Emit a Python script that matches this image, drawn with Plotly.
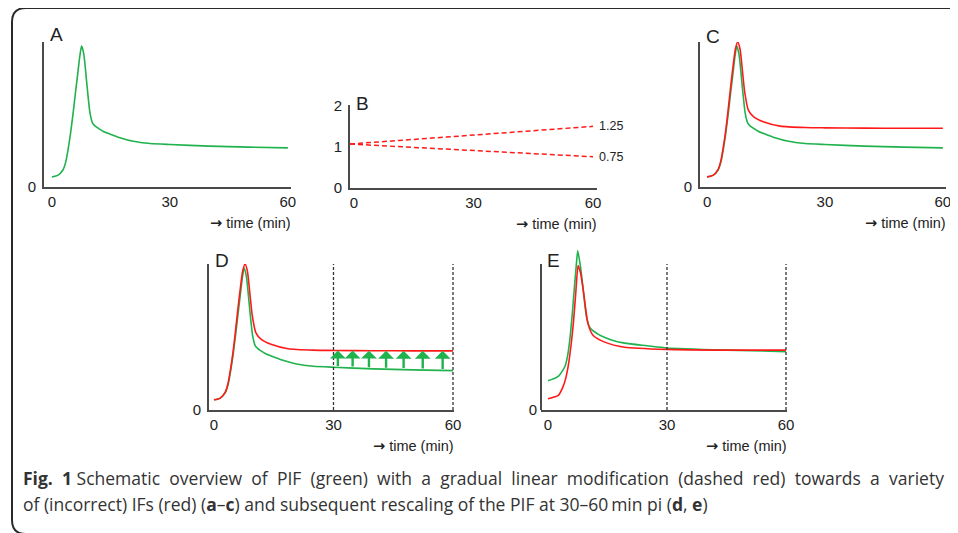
import numpy as np
import plotly.graph_objects as go

# The page body adds an 8px margin, so the figure is 8px smaller than the window
OFF = 8
W, H = 958 - OFF, 533 - OFF

# ---------------- data ----------------
tick_vals = [0, 30, 60]
tick_text = ["0", "30", "60"]

# PIF (green) used in panels A, C, D
pif_t = [0, 1.5, 2.8, 3.5, 4.1, 4.8, 5.4, 6.0, 6.6, 7.1, 7.55, 8.1, 8.8, 9.3, 9.7,
         10.35, 11.0, 11.7, 13.0, 14.7, 17.3, 20.7, 25, 30, 40, 50, 60]
pif_v = [0.07, 0.08, 0.117, 0.17, 0.255, 0.38, 0.51, 0.65, 0.786, 0.9, 0.972, 0.92,
         0.738, 0.6, 0.51, 0.441, 0.42, 0.407, 0.385, 0.366, 0.34, 0.315, 0.30, 0.293,
         0.282, 0.275, 0.27]

# IF (red) used in panels C, D
if_t = [0, 1.5, 2.8, 3.5, 4.1, 4.8, 5.4, 6.0, 6.6, 7.2, 7.8, 8.4, 9.0, 9.6, 10.5,
        11.8, 14.3, 18.6, 25, 30, 40, 50, 60]
if_v = [0.07, 0.08, 0.12, 0.18, 0.27, 0.4, 0.54, 0.69, 0.83, 0.95, 1.0, 0.95, 0.8,
        0.65, 0.53, 0.485, 0.45, 0.42, 0.41, 0.408, 0.406, 0.405, 0.405]

# Panel B: linear modification factors
mod_t = [-1, 60]
mod_up = [1.07, 1.5]
mod_down = [1.07, 0.76]
mod_labels = ["1.25", "0.75"]
b_ticks = [0, 1, 2]

# Panel D: rescaling arrows
arrow_t = [31.1, 34.8, 38.9, 43.2, 47.6, 52.4, 57.4]
window = [30, 60]

# Panel E: rescaled PIF (green) and IF (red)
e_pif_t = [0, 2.6, 4.3, 5.0, 5.5, 6.1, 6.6, 7.1, 7.5, 8.2, 8.9, 9.7, 10.55, 12.6,
           16, 19.3, 25, 30, 45, 60]
e_pif_v = [0.2, 0.23, 0.3, 0.38, 0.48, 0.65, 0.82, 0.98, 1.09, 0.98, 0.82, 0.64,
           0.565, 0.52, 0.48, 0.458, 0.44, 0.425, 0.41, 0.40]
e_if_t = [0, 2.6, 3.8, 4.5, 5.1, 5.8, 6.4, 7.0, 7.6, 8.2, 8.9, 10.1, 11.4, 14.3,
          19.3, 30, 45, 60]
e_if_v = [0.077, 0.10, 0.16, 0.22, 0.30, 0.44, 0.595, 0.8, 0.99, 0.94, 0.82, 0.59,
          0.51, 0.465, 0.43, 0.415, 0.41, 0.41]

GREEN = "#1fb24d"
RED = "#ff1a1a"
AXC = "#4a4a4a"
TXT = "#222222"
FONT = "'Liberation Sans', Arial, sans-serif"
CAPFONT = "'Open Sans', 'Liberation Sans', sans-serif"


def fx(px):
    return (px - OFF) / W


def fy(py):
    return 1 - (py - OFF) / H


# panel geometry in screen pixels
panels = {
    "A": dict(n=1, x=(44, 291), y=(187, 42), axis_top=42, xr=[-2.0, 60.8], yr=[0, 1.0], lab=-7),
    "B": dict(n=2, x=(350, 597), y=(188, 105), axis_top=105, xr=[-1.0, 61.0], yr=[0, 2.02], lab=-2),
    "C": dict(n=3, x=(700, 946), y=(187, 42), axis_top=42, xr=[-1.8, 60.8], yr=[0, 1.0], lab=-6),
    "D": dict(n=4, x=(209, 454), y=(410, 264), axis_top=264, xr=[-1.25, 60.25], yr=[0, 1.0], lab=-4),
    "E": dict(n=5, x=(541, 787), y=(410, 246.5), axis_top=264, xr=[-1.76, 60.25], yr=[0, 1.12], lab=-4),
}

fig = go.Figure()


def ax(n):
    return ("x" if n == 1 else f"x{n}"), ("y" if n == 1 else f"y{n}")


line_kw = dict(shape="spline", smoothing=0.6, width=1.6)

# A
xa, ya = ax(1)
fig.add_trace(go.Scatter(x=pif_t, y=pif_v, mode="lines", line=dict(color=GREEN, **line_kw),
                         xaxis=xa, yaxis=ya))
# B
xa, ya = ax(2)
for vals in (mod_up, mod_down):
    fig.add_trace(go.Scatter(x=mod_t, y=vals, mode="lines",
                             line=dict(color=RED, width=1.5, dash="5px,3px"),
                             xaxis=xa, yaxis=ya))
# C and D
for n in (3, 4):
    xa, ya = ax(n)
    fig.add_trace(go.Scatter(x=pif_t, y=pif_v, mode="lines", line=dict(color=GREEN, **line_kw),
                             xaxis=xa, yaxis=ya))
    fig.add_trace(go.Scatter(x=if_t, y=if_v, mode="lines", line=dict(color=RED, **line_kw),
                             xaxis=xa, yaxis=ya))
# E
xa, ya = ax(5)
fig.add_trace(go.Scatter(x=e_pif_t, y=e_pif_v, mode="lines", line=dict(color=GREEN, **line_kw),
                         xaxis=xa, yaxis=ya))
fig.add_trace(go.Scatter(x=e_if_t, y=e_if_v, mode="lines", line=dict(color=RED, **line_kw),
                         xaxis=xa, yaxis=ya))

layout = dict(
    template="none",
    width=W, height=H, autosize=False,
    margin=dict(l=0, r=0, t=0, b=0, pad=0, autoexpand=False),
    paper_bgcolor="white", plot_bgcolor="rgba(0,0,0,0)", showlegend=False,
    font=dict(family=FONT, color=TXT),
)
annotations = []
shapes = []

ARROW = "<span style=\"font-family:'DejaVu Sans'\"><b>\u2192</b></span> time (min)"

for name, p in panels.items():
    n = p["n"]
    suffix = "" if n == 1 else str(n)
    xdom = [fx(p["x"][0]), fx(p["x"][1])]
    ydom = [fy(p["y"][0]), fy(p["y"][1])]
    layout["xaxis" + suffix] = dict(
        domain=xdom, range=p["xr"], anchor="y" + suffix, showgrid=False, zeroline=False,
        showline=True, linecolor=AXC, linewidth=2, ticks="", tickvals=tick_vals,
        ticktext=tick_text, tickfont=dict(size=15, color=TXT, family=FONT), fixedrange=True,
        automargin=False,
    )
    yt = b_ticks if name == "B" else [0]
    layout["yaxis" + suffix] = dict(
        domain=ydom, range=p["yr"], anchor="x" + suffix, showgrid=False, zeroline=False,
        showline=(name != "E"), linecolor=AXC, linewidth=2, ticks="", tickvals=yt,
        ticktext=[str(v) for v in yt], tickfont=dict(size=15, color=TXT, family=FONT),
        ticklabelstandoff=3, fixedrange=True, automargin=False,
    )
    # panel letter
    annotations.append(dict(text=name, xref="paper", yref="paper",
                            x=xdom[0] + 4 / W, y=fy(p["axis_top"] + p["lab"]), xanchor="left",
                            yanchor="middle", showarrow=False,
                            font=dict(size=19, color=TXT, family=FONT)))
    # time label
    annotations.append(dict(text=ARROW, xref="paper", yref="paper",
                            x=xdom[1] + 2 / W, y=ydom[0] - 36 / H, xanchor="right",
                            yanchor="middle", showarrow=False,
                            font=dict(size=14.5, color=TXT, family=FONT)))

# E y axis line (plot area is taller than the drawn axis)
pe = panels["E"]
shapes.append(dict(type="line", xref="x5 domain", yref="y5 domain", x0=0, x1=0, y0=0,
                   y1=1.0 / pe["yr"][1], line=dict(color=AXC, width=2), layer="above"))

# Vertical dashed lines at 30 and 60 min (D, E)
for n in (4, 5):
    for t in window:
        shapes.append(dict(type="line", xref=f"x{n}", yref=f"y{n}", x0=t, x1=t, y0=0, y1=1.0,
                           line=dict(color="#333333", width=1.3, dash="3px,2px")))

# B labels for the factors
for lab, vals in zip(mod_labels, (mod_up, mod_down)):
    annotations.append(dict(text=lab, xref="x2", yref="y2", x=mod_t[-1], y=vals[-1],
                            xanchor="left", yanchor="middle", xshift=4, showarrow=False,
                            font=dict(size=12.5, color=TXT, family=FONT)))

# D rescaling arrows (green -> red)
for t in arrow_t:
    g = float(np.interp(t, pif_t, pif_v))
    r = float(np.interp(t, if_t, if_v))
    annotations.append(dict(x=t, y=r, ax=t, ay=g, xref="x4", yref="y4", axref="x4",
                            ayref="y4", showarrow=True, arrowhead=1, arrowsize=1.1,
                            arrowwidth=2.4, arrowcolor=GREEN, standoff=0, text=""))

# caption (first line justified to the full width by slightly wider word gaps)
cap1 = ("<b>Fig. 1</b> Schematic overview of PIF (green) with a gradual linear modification "
        "(dashed red) towards a variety")
cap2 = ("of (incorrect) IFs (red) (<b>a</b>\u2013<b>c</b>) and subsequent rescaling of the PIF "
        "at 30\u201360\u2009min pi (<b>d</b>, <b>e</b>)")
cap1 = cap1.replace("<b>Fig. 1</b> ", "<b>Fig. 1</b>\u00a0").replace(" ", " \u2009\u200a")
cap1 = cap1.replace("<b>Fig. 1</b>\u00a0", "<b>Fig. 1</b> \u2009\u200a")
for txt, py in ((cap1, 478), (cap2, 504)):
    annotations.append(dict(text=txt, xref="paper", yref="paper", x=fx(21), y=fy(py),
                            xanchor="left", yanchor="middle", showarrow=False,
                            font=dict(size=17.5, color="#333333", family=CAPFONT)))

# frame (rounded, cut at right and bottom)
path = (f"M {fx(962)},{fy(8)} L {fx(26)},{fy(8)} Q {fx(12)},{fy(8)} {fx(12)},{fy(22)} "
        f"L {fx(12)},{fy(520)} Q {fx(12)},{fy(534)} {fx(26)},{fy(534)} L {fx(962)},{fy(534)}")
shapes.append(dict(type="path", xref="paper", yref="paper", path=path,
                   line=dict(color="#2a2a2a", width=2)))

layout["annotations"] = annotations
layout["shapes"] = shapes
fig.update_layout(**layout)
fig.write_html("out.html")
